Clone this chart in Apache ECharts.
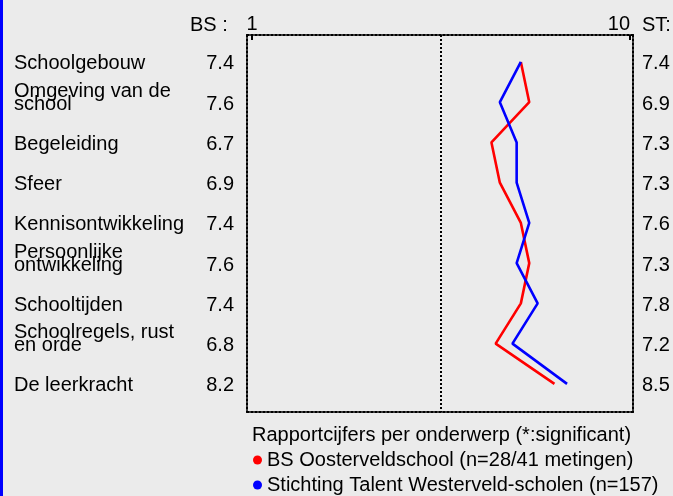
<!DOCTYPE html>
<html>
<head>
<meta charset="utf-8">
<script src="https://cdn.jsdelivr.net/npm/echarts@6/dist/echarts.min.js"></script>
<style>
  html, body { margin: 0; padding: 0; background: #ebebeb; }
  #chart { width: 673px; height: 496px; }
</style>
</head>
<body>
<div id="chart"></div>
<script>
// onderwerpen (labels links)
let topics = ['Schoolgebouw', 'Omgeving van de\nschool', 'Begeleiding', 'Sfeer', 'Kennisontwikkeling',
  'Persoonlijke\nontwikkeling', 'Schooltijden', 'Schoolregels, rust\nen orde', 'De leerkracht']
// rapportcijfers
let bsScores = [7.4, 7.6, 6.7, 6.9, 7.4, 7.6, 7.4, 6.8, 8.2]
let stScores = [7.4, 6.9, 7.3, 7.3, 7.6, 7.3, 7.8, 7.2, 8.5]
let scaleTicks = [1, 10]
let bsName = 'BS Oosterveldschool (n=28/41 metingen)'
let stName = 'Stichting Talent Westerveld-scholen (n=157)'

let font = 'Liberation Sans, Arial, sans-serif'
let rows = topics.map((t, i) => i)
let dotted = { show: true, onZero: false, lineStyle: { color: '#000', width: 2, type: 'dotted' } }
let plainText = { fontSize: 20, fontWeight: 'normal', color: '#000', fontFamily: font }

function rowLabel (list, value) {
  let i = Math.round(value)
  let s = list[i]
  return typeof s === 'number' ? s.toFixed(1) : s
}

// label-assen: zelfde schaal, tekst 2px lager dan de lijnpunten
function labelAxis (position, label) {
  return {
    type: 'value', position: position, inverse: true, min: -0.72, max: 8.65,
    axisLine: { show: false }, axisTick: { show: false }, splitLine: { show: false },
    axisLabel: Object.assign({ customValues: rows, fontSize: 20, color: '#000', fontFamily: font }, label)
  }
}

let chart = echarts.init(document.getElementById('chart'))
let option = {
  backgroundColor: '#ebebeb',
  animation: false,
  textStyle: { fontFamily: font },
  title: [
    { text: 'BS :', left: 190, top: 15, padding: 0, textStyle: plainText },
    { text: 'ST:', left: 642, top: 15, padding: 0, textStyle: plainText },
    { text: 'Rapportcijfers per onderwerp (*:significant)', left: 252, top: 425, padding: 0, textStyle: plainText }
  ],
  graphic: [
    { type: 'rect', left: 0, top: 0, shape: { width: 3, height: 496 }, style: { fill: '#0000ff' } }
  ],
  legend: {
    orient: 'vertical',
    left: 253,
    top: 450,
    height: 60,
    padding: 0,
    itemWidth: 9,
    itemHeight: 9,
    itemGap: 5,
    icon: 'circle',
    textStyle: { fontSize: 20, lineHeight: 20, color: '#000', fontFamily: font },
    data: [bsName, stName]
  },
  grid: { left: 247, right: 40, top: 35, bottom: 84, containLabel: false },
  xAxis: [
    {
      type: 'value', position: 'top', min: 0.88, max: 10.07,
      axisLine: dotted,
      axisTick: { show: true, inside: true, length: 5, customValues: scaleTicks, lineStyle: { color: '#000', width: 2 } },
      axisLabel: { customValues: scaleTicks, fontSize: 20, color: '#000', margin: 1, alignMaxLabel: 'right', fontFamily: font },
      splitLine: { show: false }
    },
    {
      type: 'value', position: 'bottom', min: 0.88, max: 10.07,
      axisLine: dotted, axisTick: { show: false }, axisLabel: { show: false }, splitLine: { show: false }
    }
  ],
  yAxis: [
    {
      type: 'value', position: 'left', inverse: true, min: -0.67, max: 8.7,
      axisLine: dotted, axisTick: { show: false }, splitLine: { show: false }, axisLabel: { show: false }
    },
    {
      type: 'value', position: 'right', inverse: true, min: -0.67, max: 8.7,
      axisLine: dotted, axisTick: { show: false }, splitLine: { show: false }, axisLabel: { show: false }
    },
    labelAxis('left', { margin: 13, formatter: v => rowLabel(bsScores, v) }),
    labelAxis('left', {
      margin: 233, align: 'left', lineHeight: 13,
      formatter: v => {
        let s = rowLabel(topics, v)
        return s.indexOf('\n') > -1 ? s + '\n' : s
      }
    }),
    labelAxis('right', { margin: 9, formatter: v => rowLabel(stScores, v) })
  ],
  series: [
    {
      name: bsName, type: 'line', xAxisIndex: 0, yAxisIndex: 0,
      data: bsScores.map((v, i) => [v, i]),
      showSymbol: false, symbol: 'circle', color: '#ff0000',
      lineStyle: { color: '#ff0000', width: 2.6 },
      markLine: {
        silent: true, symbol: 'none', label: { show: false },
        lineStyle: { color: '#000', width: 2, type: 'dotted' },
        data: [{ xAxis: 5.5 }]
      }
    },
    {
      name: stName, type: 'line', xAxisIndex: 0, yAxisIndex: 0,
      data: stScores.map((v, i) => [v, i]),
      showSymbol: false, symbol: 'circle', color: '#0000ff',
      lineStyle: { color: '#0000ff', width: 2.6 }
    }
  ]
}
chart.setOption(option)
</script>
</body>
</html>
